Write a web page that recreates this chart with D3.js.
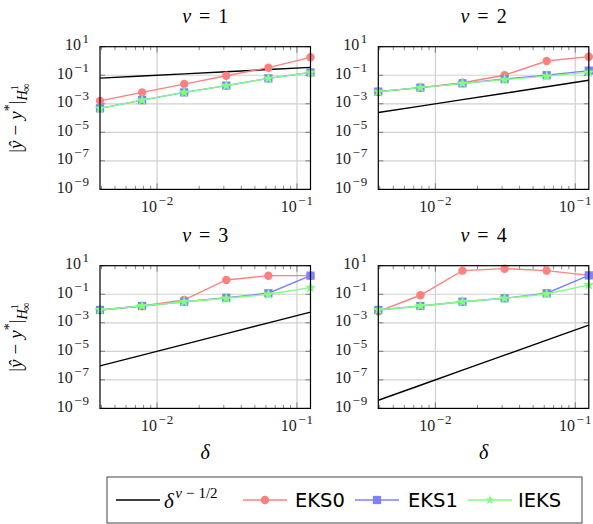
<!DOCTYPE html>
<html>
<head>
<meta charset="utf-8">
<script src="https://cdn.jsdelivr.net/npm/d3@7"></script>
<style>
  body { margin: 0; background: #fff; }
</style>
</head>
<body>
<div id="chart"></div>
<script>
// step sizes delta = 2^-8 ... 2^-3
var deltas = [0.00390625, 0.0078125, 0.015625, 0.03125, 0.0625, 0.125];
var nus = [1, 2, 3, 4];

// reference rate delta^(nu-1/2), one row per nu
var refRate = [
  [0.0625, 0.0884, 0.125, 0.177, 0.25, 0.354],
  [2.44e-4, 6.9e-4, 1.95e-3, 5.52e-3, 0.0156, 0.0442],
  [9.54e-7, 5.39e-6, 3.05e-5, 1.73e-4, 9.77e-4, 5.52e-3],
  [3.73e-9, 4.21e-8, 4.77e-7, 5.39e-6, 6.1e-5, 6.9e-4]
];

// errors
var eks0 = [
  [1.6e-3, 6.3e-3, 0.024, 0.093, 0.34, 1.8],
  [7.1e-3, 0.0135, 0.030, 0.10, 1.0, 2.0],
  [7.9e-3, 0.015, 0.040, 1.0, 2.0, 2.0],
  [6.3e-3, 0.085, 4.5, 6.2, 4.5, 2.1]
];
var eks1 = [
  [4.8e-4, 1.8e-3, 6.3e-3, 0.0186, 0.06, 0.158],
  [7.1e-3, 0.0135, 0.027, 0.054, 0.10, 0.21],
  [7.9e-3, 0.015, 0.030, 0.057, 0.117, 2.0],
  [7.9e-3, 0.015, 0.030, 0.052, 0.117, 2.1]
];
var ieks = [
  [4.8e-4, 1.8e-3, 6.3e-3, 0.0186, 0.06, 0.158],
  [7.1e-3, 0.0135, 0.027, 0.049, 0.087, 0.158],
  [7.9e-3, 0.015, 0.030, 0.052, 0.10, 0.29],
  [7.9e-3, 0.015, 0.030, 0.052, 0.105, 0.45]
];

var yTickExps = [1, -1, -3, -5, -7, -9];
var xTickExps = [-2, -1];

var W = 593, H = 524;
var panelW = 210.5, panelH = 142.7;
var panelX = [100, 378.3];
var panelY = [46.7, 265.7];

var red = "#ff8080", blue = "#8080ff", green = "#80ff80";
var serif = "'Liberation Serif', serif";

var svg = d3.select("#chart").append("svg")
  .attr("width", W).attr("height", H)
  .attr("font-family", serif);

var x = d3.scaleLog().domain([deltas[0], deltas[deltas.length - 1]]).range([0, panelW]);
var y = d3.scaleLog().domain([1e-9, 10]).range([panelH, 0]);

function powLabel(sel, exp, anchor) {
  var t = sel.append("text").attr("text-anchor", anchor)
    .attr("font-size", 16).attr("fill", "#222");
  t.append("tspan").text("10");
  if (exp < 0) {
    t.append("tspan").attr("dx", 1.5).attr("dy", -7).attr("font-size", 13).text("\u2212");
    t.append("tspan").attr("dx", 1).attr("font-size", 13).text(String(-exp));
  } else {
    t.append("tspan").attr("dx", 1.5).attr("dy", -7).attr("font-size", 13).text(String(exp));
  }
  return t;
}

nus.forEach(function (nu, i) {
  var col = i % 2, row = Math.floor(i / 2);
  var g = svg.append("g")
    .attr("transform", "translate(" + panelX[col] + "," + panelY[row] + ")");

  // grid
  g.selectAll(".gx").data(xTickExps).enter().append("line")
    .attr("x1", function (d) { return x(Math.pow(10, d)); })
    .attr("x2", function (d) { return x(Math.pow(10, d)); })
    .attr("y1", 0).attr("y2", panelH)
    .attr("stroke", "#d0d0d0").attr("stroke-width", 1.2);
  g.selectAll(".gy").data(yTickExps.slice(1, -1)).enter().append("line")
    .attr("y1", function (d) { return y(Math.pow(10, d)); })
    .attr("y2", function (d) { return y(Math.pow(10, d)); })
    .attr("x1", 0).attr("x2", panelW)
    .attr("stroke", "#d0d0d0").attr("stroke-width", 1.2);

  // x ticks: minor and major, bottom and top, inward
  var minor = [];
  [-3, -2, -1].forEach(function (e) {
    for (var m = 1; m <= 9; m++) {
      var v = m * Math.pow(10, e);
      if (v >= deltas[0] && v <= deltas[deltas.length - 1]) minor.push({v: v, major: m === 1});
    }
  });
  minor.forEach(function (t) {
    var len = t.major ? 6 : 3.5;
    var px = x(t.v);
    g.append("line").attr("x1", px).attr("x2", px).attr("y1", panelH).attr("y2", panelH - len)
      .attr("stroke", "#555").attr("stroke-width", 0.7);
    g.append("line").attr("x1", px).attr("x2", px).attr("y1", 0).attr("y2", len)
      .attr("stroke", "#555").attr("stroke-width", 0.7);
  });
  yTickExps.forEach(function (e) {
    var py = y(Math.pow(10, e));
    g.append("line").attr("x1", 0).attr("x2", 5).attr("y1", py).attr("y2", py)
      .attr("stroke", "#555").attr("stroke-width", 0.7);
    g.append("line").attr("x1", panelW).attr("x2", panelW - 5).attr("y1", py).attr("y2", py)
      .attr("stroke", "#555").attr("stroke-width", 0.7);
  });

  // tick labels
  yTickExps.forEach(function (e) {
    powLabel(g, e, "end")
      .attr("x", -11).attr("y", y(Math.pow(10, e)) + 3.5);
  });
  xTickExps.forEach(function (e) {
    powLabel(g, e, "middle")
      .attr("x", x(Math.pow(10, e))).attr("y", panelH + 23);
  });

  // lines
  var line = d3.line()
    .x(function (d, j) { return x(deltas[j]); })
    .y(function (d) { return y(d); });

  g.append("path").datum(refRate[i]).attr("d", line)
    .attr("fill", "none").attr("stroke", "#000").attr("stroke-width", 1.4);

  var series = [
    {vals: eks0[i], color: red, sym: d3.symbolCircle, size: 56},
    {vals: eks1[i], color: blue, sym: d3.symbolSquare, size: 68},
    {vals: ieks[i], color: green, sym: d3.symbolStar, size: 42}
  ];
  series.forEach(function (s) {
    g.append("path").datum(s.vals).attr("d", line)
      .attr("fill", "none").attr("stroke", s.color).attr("stroke-width", 1.4);
    g.selectAll(null).data(s.vals).enter().append("path")
      .attr("transform", function (d, j) { return "translate(" + x(deltas[j]) + "," + y(d) + ")"; })
      .attr("d", d3.symbol().type(s.sym).size(s.size))
      .attr("fill", s.color);
  });

  // frame
  g.append("rect").attr("width", panelW).attr("height", panelH)
    .attr("fill", "none").attr("stroke", "#000").attr("stroke-width", 1.2);

  // title
  var tt = g.append("text").attr("x", panelW / 2).attr("y", -24)
    .attr("text-anchor", "middle").attr("font-size", 20);
  tt.append("tspan").attr("font-style", "italic").text("\u03bd");
  tt.append("tspan").attr("dx", 8).text("=");
  tt.append("tspan").attr("dx", 8).text(String(nu));

  // x label
  if (row === 1) {
    g.append("text").attr("x", panelW / 2).attr("y", panelH + 51)
      .attr("text-anchor", "middle").attr("font-size", 20).attr("font-style", "italic")
      .text("\u03b4");
  }
  // y label
  if (col === 0) {
    var yl = g.append("text")
      .attr("transform", "translate(-78," + (panelH / 2) + ") rotate(-90)")
      .attr("text-anchor", "middle").attr("font-size", 19);
    yl.append("tspan").text("|");
    yl.append("tspan").attr("font-style", "italic").text("\u0177");
    yl.append("tspan").attr("dx", 5).text("\u2212");
    yl.append("tspan").attr("dx", 5).attr("font-style", "italic").text("y");
    yl.append("tspan").attr("dy", -8).attr("font-size", 14).text("*");
    yl.append("tspan").attr("dy", 8).text("|");
    yl.append("tspan").attr("dy", 5).attr("font-size", 14).attr("font-style", "italic").text("H");
    yl.append("tspan").attr("dy", -9).attr("font-size", 11).text("1");
    yl.append("tspan").attr("dx", -7).attr("dy", 12).attr("font-size", 12).text("\u221e");
  }
});

// legend
var leg = svg.append("g").attr("transform", "translate(107,477)");
leg.append("rect").attr("width", 475).attr("height", 46)
  .attr("fill", "#fff").attr("stroke", "#444").attr("stroke-width", 1);

var legItems = [
  {x0: 9, color: "#000", sym: null, size: 0},
  {x0: 136, color: red, sym: d3.symbolCircle, size: 56, label: "EKS0", tx: 188},
  {x0: 248, color: blue, sym: d3.symbolSquare, size: 68, label: "EKS1", tx: 301},
  {x0: 361, color: green, sym: d3.symbolStar, size: 30, label: "IEKS", tx: 411}
];
legItems.forEach(function (it) {
  leg.append("line").attr("x1", it.x0).attr("x2", it.x0 + 44).attr("y1", 23).attr("y2", 23)
    .attr("stroke", it.color).attr("stroke-width", 1.4);
  if (it.sym) {
    leg.append("path").attr("transform", "translate(" + (it.x0 + 22) + ",23)")
      .attr("d", d3.symbol().type(it.sym).size(it.size)).attr("fill", it.color);
    leg.append("text").attr("x", it.tx).attr("y", 30)
      .attr("font-family", "'DejaVu Sans', sans-serif")
      .attr("font-size", 19.5).text(it.label);
  }
});
var lt = leg.append("text").attr("x", 57).attr("y", 31).attr("font-size", 21);
lt.append("tspan").attr("font-style", "italic").text("\u03b4");
lt.append("tspan").attr("dx", 1.5).attr("dy", -10).attr("font-size", 15).attr("font-style", "italic").text("\u03bd");
lt.append("tspan").attr("dx", 4).attr("font-size", 15).text("\u2212");
lt.append("tspan").attr("dx", 4).attr("font-size", 15).text("1/2");
</script>
</body>
</html>
